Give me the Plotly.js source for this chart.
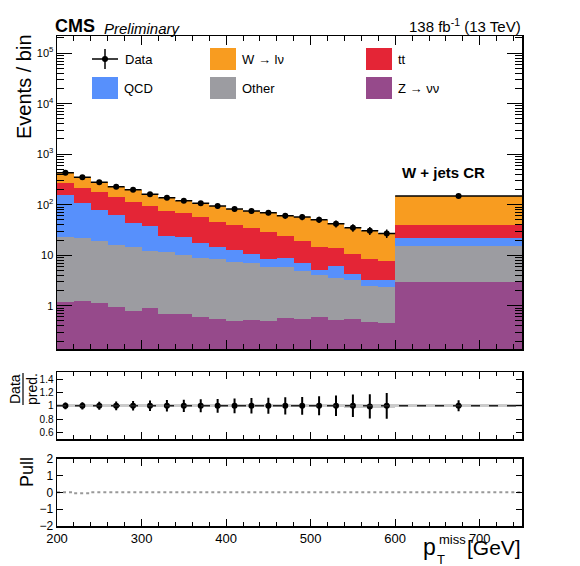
<!DOCTYPE html>
<html>
<head>
<meta charset="utf-8">
<script src="https://cdn.plot.ly/plotly-3.0.1.min.js"></script>
<style>html,body{margin:0;padding:0;background:#fff;}#plot{width:580px;height:566px;}</style>
</head>
<body>
<div id="plot"></div>
<script>
// ---- data ----
const binEdges = [200,220,240,260,280,300,320,340,360,380,400,420,440,460,480,500,520,540,560,580,600,750];
const zNuNu  = [1.2,1.26,1.15,0.95,0.8,0.9,0.69,0.7,0.6,0.54,0.5,0.51,0.5,0.58,0.55,0.6,0.53,0.55,0.48,0.46,3.0];
const other  = [22.0,20.6,18.2,15.0,13.5,11.2,10.9,9.4,8.3,7.8,6.9,6.4,5.25,5.3,4.35,3.5,3.07,2.65,2.0,1.84,12.2];
const qcd    = [132.8,88.1,59.1,46.6,29.7,25.8,12.4,12.8,8.8,6.0,5.3,3.7,2.75,3.0,2.1,1.1,2.5,1.05,0.7,0.9,6.7];
const ttbar  = [117,107,97.5,77.5,71,56.1,52,44.7,38.6,31.7,26.3,24.4,20.5,15.1,12,9.1,7.8,6.15,5.2,4.5,17.7];
const wlnu   = [157,133,101,87,83,67,62,52.4,50.7,48,43,40,40.5,36.5,38,36.2,28.1,24.6,22.1,19.3,109.4];
const dataY  = [430,349,277,227,198,161,138,120,107,94,82,75,69.5,60.5,57,50.5,42,35,30.5,27,149];
const dataErr= [21,19,17,15,14,13,12,11,10,10,9,9,8,8,8,7,6.5,6,5.5,5.2,12];
const ratio  = [1,1,1,1,1,1,1,1,1,1,1,1,1,1,1,1,1,1,0.99,1,1];
const ratioErr=[0.05,0.054,0.06,0.066,0.071,0.079,0.085,0.091,0.097,0.103,0.11,0.115,0.12,0.129,0.132,0.141,0.154,0.169,0.181,0.192,0.082];
const bandUnc= [0.02,0.02,0.02,0.02,0.02,0.02,0.02,0.02,0.02,0.02,0.02,0.02,0.02,0.02,0.025,0.025,0.025,0.03,0.03,0.03,0.02];
const pull   = [0,-0.05,0,0,0,0,0,0,0,0,0,0,0,0,0,0,0,0,0,0,0];
const yTickVals = [1,10,100,1000,10000,100000];
const yTickText = ['1','10','10<sup>2</sup>','10<sup>3</sup>','10<sup>4</sup>','10<sup>5</sup>'];

const colors = {z:'#964a8b', other:'#9c9ca1', qcd:'#5790fc', tt:'#e42536', w:'#f89c20'};

// ---- derived bin geometry ----
const centers = [], widths = [], halfW = [];
for (let i=0;i<binEdges.length-1;i++){
  centers.push((binEdges[i]+binEdges[i+1])/2);
  widths.push(binEdges[i+1]-binEdges[i]);
  halfW.push((binEdges[i+1]-binEdges[i])/2);
}
const bandBase = bandUnc.map(u=>1-u);
const bandH = bandUnc.map(u=>2*u);
const pullStep = pull.concat([pull[pull.length-1]]);

// layout geometry helpers (px -> paper)
const W=580,H=566,ML=57,MR=58,MT=36,MB=40;
const PW=W-ML-MR, PH=H-MT-MB;
const fx = px => (px-ML)/PW;
const fy = py => (H-MB-py)/PH;

function barTrace(vals,col,name){
  return {type:'bar',x:centers,y:vals,width:widths,name:name,
    marker:{color:col,line:{width:0}},xaxis:'x',yaxis:'y',hoverinfo:'skip',showlegend:false};
}
const traces = [
  barTrace(zNuNu,colors.z,'Z→νν'),
  barTrace(other,colors.other,'Other'),
  barTrace(qcd,colors.qcd,'QCD'),
  barTrace(ttbar,colors.tt,'tt'),
  barTrace(wlnu,colors.w,'W→lν'),
  {type:'scatter',mode:'markers',x:centers,y:dataY,xaxis:'x',yaxis:'y',showlegend:false,
    marker:{color:'black',size:6},
    error_x:{type:'data',array:halfW,visible:true,color:'black',thickness:1.5,width:0},
    error_y:{type:'data',array:dataErr,visible:true,color:'black',thickness:1.5,width:0}},
  {type:'bar',x:centers,y:bandH,base:bandBase,width:widths,xaxis:'x2',yaxis:'y2',showlegend:false,
    marker:{color:'rgba(160,160,160,0.55)',line:{width:0}}},
  {type:'scatter',mode:'markers',x:centers,y:ratio,xaxis:'x2',yaxis:'y2',showlegend:false,
    marker:{color:'black',size:6},
    error_y:{type:'data',array:ratioErr,visible:true,color:'black',thickness:2,width:0}},
  {type:'scatter',mode:'lines',x:binEdges,y:pullStep,xaxis:'x3',yaxis:'y3',showlegend:false,
    line:{shape:'hv',color:'#999',width:2,dash:'dot'}}
];

const font = 'Liberation Sans, Arial, Helvetica, sans-serif';
const xCommon = {range:[200,750],ticks:'inside',ticklen:9,tickwidth:1,tickcolor:'black',
  dtick:100,tick0:200,showline:true,linecolor:'black',linewidth:1.5,mirror:'ticks',
  showgrid:false,zeroline:false,
  minor:{dtick:20,tick0:200,ticks:'inside',ticklen:5,tickwidth:1,tickcolor:'black',showgrid:false}};

const minorLog = [];
for (const d of [0.1,1,10,100,1000,10000,100000]) for (let k=2;k<=9;k++) minorLog.push(k*d);

const layout = {
  width:W,height:H,margin:{l:ML,r:MR,t:MT,b:MB},
  paper_bgcolor:'white',plot_bgcolor:'white',
  font:{family:font,color:'black'},
  barmode:'stack',bargap:0,showlegend:false,
  xaxis:Object.assign({},xCommon,{domain:[0,1],anchor:'y',showticklabels:false}),
  xaxis2:Object.assign({},xCommon,{domain:[0,1],anchor:'y2',matches:'x',showticklabels:false,ticklen:7,minor:Object.assign({},xCommon.minor,{ticklen:4})}),
  xaxis3:Object.assign({},xCommon,{domain:[0,1],anchor:'y3',matches:'x',showticklabels:true,ticklen:7,
    tickfont:{size:13,family:font},minor:Object.assign({},xCommon.minor,{ticklen:4})}),
  yaxis:{domain:[fy(349.3),1],type:'log',range:[-0.863,5.34],anchor:'x',
    tickmode:'array',tickvals:yTickVals,ticktext:yTickText,tickfont:{size:11,family:font},
    ticks:'inside',ticklen:15,tickwidth:1,tickcolor:'black',
    showline:true,linecolor:'black',linewidth:1.5,mirror:'ticks',showgrid:false,zeroline:false,
    minor:{tickmode:'array',tickvals:minorLog,ticks:'inside',ticklen:7,tickwidth:1,tickcolor:'black',showgrid:false}},
  yaxis2:{domain:[fy(439.3),fy(372.3)],range:[0.5,1.5],anchor:'x2',
    tickmode:'array',tickvals:[0.6,0.8,1,1.2,1.4],ticktext:['0.6','0.8','1','1.2','1.4'],
    tickfont:{size:10,family:font},ticks:'inside',ticklen:6,tickwidth:1,tickcolor:'black',
    showline:true,linecolor:'black',linewidth:1.5,mirror:'ticks',showgrid:false,zeroline:false},
  yaxis3:{domain:[0,fy(458.7)],range:[-2,2],anchor:'x3',
    tickmode:'array',tickvals:[-2,-1,0,1,2],ticktext:['\u22122','\u22121','0','1','2'],
    tickfont:{size:12,family:font},ticks:'inside',ticklen:6,tickwidth:1,tickcolor:'black',
    showline:true,linecolor:'black',linewidth:1.5,mirror:'ticks',showgrid:false,zeroline:false},
  shapes:[],
  annotations:[]
};

// reference line in ratio panel
layout.shapes.push({type:'line',xref:'x2',yref:'y2',x0:200,x1:750,y0:1,y1:1,
  line:{color:'#222',width:1.5,dash:'dash'}});
// fraction bar for "Data / pred."
layout.shapes.push({type:'line',xref:'paper',yref:'paper',x0:fx(23),x1:fx(23),y0:fy(405),y1:fy(373),
  line:{color:'black',width:1.2}});

function ann(text,px,py,size,opts){
  return Object.assign({text:text,x:fx(px),y:fy(py),xref:'paper',yref:'paper',showarrow:false,
    xanchor:'left',yanchor:'middle',font:{size:size,family:font,color:'black'}},opts||{});
}
layout.annotations.push(
  ann('<b>CMS</b>',53,26,18),
  ann('<i>Preliminary</i>',102,28,15),
  ann('138 fb<sup>-1</sup> (13 TeV)',523,26,15,{xanchor:'right'}),
  ann('<b>W + jets CR</b>',443,172,15,{xanchor:'center'}),
  ann('Events / bin',24,87,20,{xanchor:'center',textangle:-90}),
  ann('Data',15,389,14,{xanchor:'center',textangle:-90}),
  ann('pred.',32,389,14,{xanchor:'center',textangle:-90}),
  ann('Pull',27,472,18,{xanchor:'center',textangle:-90}),
  ann('p',429,547,23,{xanchor:'center'}),
  ann('miss',437,539,13),
  ann('T',435,559,13),
  ann('[GeV]',523,547,21,{xanchor:'right'})
);

// manual legend (3 columns x 2 rows)
const legendItems = [
  {label:'W \u2192 l\u03bd',col:colors.w,bx:210,by:59},
  {label:'tt',col:colors.tt,bx:366,by:59},
  {label:'QCD',col:colors.qcd,bx:92,by:88},
  {label:'Other',col:colors.other,bx:210,by:88},
  {label:'Z \u2192 \u03bd\u03bd',col:colors.z,bx:366,by:88}
];
for (const it of legendItems){
  layout.shapes.push({type:'rect',xref:'paper',yref:'paper',x0:fx(it.bx),x1:fx(it.bx+26),
    y0:fy(it.by+11),y1:fy(it.by-11),fillcolor:it.col,line:{width:0}});
  layout.annotations.push(ann(it.label,it.bx+30,it.by,13));
}
// Data legend symbol
layout.shapes.push({type:'line',xref:'paper',yref:'paper',x0:fx(92),x1:fx(118),y0:fy(59),y1:fy(59),line:{color:'black',width:1.5}});
layout.shapes.push({type:'line',xref:'paper',yref:'paper',x0:fx(105),x1:fx(105),y0:fy(69),y1:fy(49),line:{color:'black',width:1.5}});
layout.shapes.push({type:'circle',xref:'paper',yref:'paper',x0:fx(102),x1:fx(108),y0:fy(62),y1:fy(56),fillcolor:'black',line:{color:'black',width:0}});
layout.annotations.push(ann('Data',123,59,13));

Plotly.newPlot('plot',traces,layout,{displayModeBar:false,staticPlot:true});
</script>
</body>
</html>
